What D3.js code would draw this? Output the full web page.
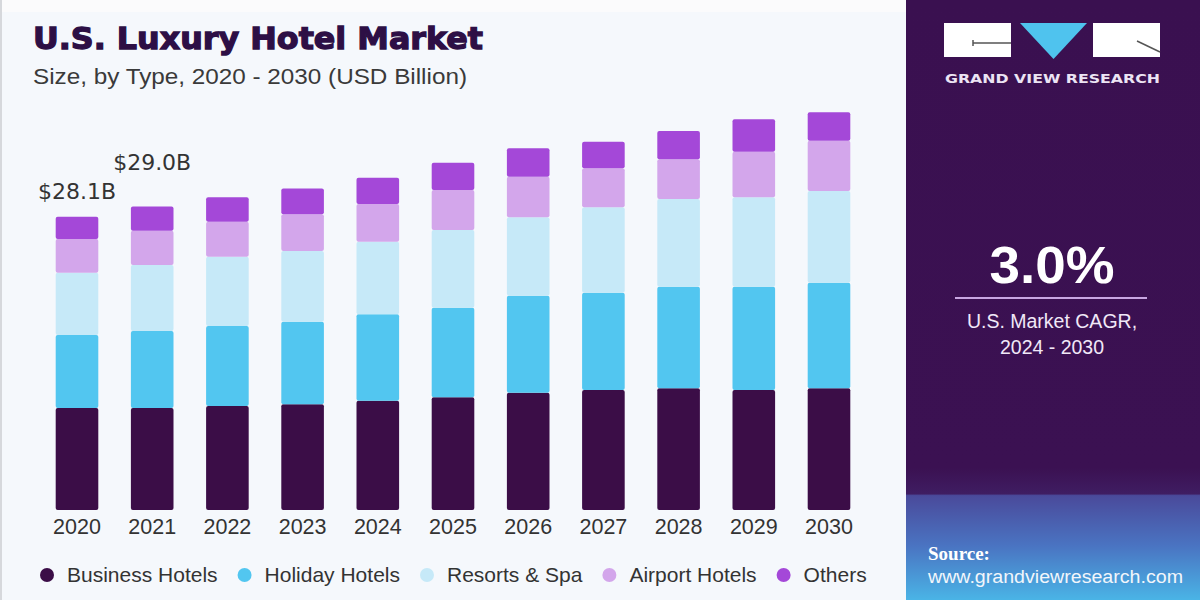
<!DOCTYPE html>
<html>
<head>
<meta charset="utf-8">
<script src="https://cdn.jsdelivr.net/npm/d3@7"></script>
<style>
  html, body { margin: 0; padding: 0; background: #f5f8fc; }
  svg { display: block; }
</style>
</head>
<body>
<svg id="chart" width="1200" height="600"></svg>
<script>
// ---- data ----
const years = ["2020","2021","2022","2023","2024","2025","2026","2027","2028","2029","2030"];
const seriesNames = ["Business Hotels","Holiday Hotels","Resorts & Spa","Airport Hotels","Others"];
const businessHotels = [9.77, 9.77, 9.96, 10.12, 10.47, 10.79, 11.24, 11.49, 11.66, 11.49, 11.66];
const holidayHotels  = [6.99, 7.38, 7.66, 7.91, 8.28, 8.58, 9.29, 9.32, 9.73, 9.90, 10.11];
const resortsSpa     = [5.97, 6.32, 6.64, 6.77, 6.95, 7.44, 7.51, 8.18, 8.40, 8.56, 8.78];
const airportHotels  = [3.23, 3.29, 3.35, 3.54, 3.61, 3.83, 3.89, 3.74, 3.80, 4.37, 4.82];
const others         = [2.14, 2.30, 2.34, 2.46, 2.52, 2.61, 2.72, 2.55, 2.71, 3.10, 2.72];
const valueLabels = [{year: "2020", text: "$28.1B"}, {year: "2021", text: "$29.0B"}];
const cagrValue = "3.0%";
const cagrLines = ["U.S. Market CAGR,", "2024 - 2030"];

// ---- styles ----
const colors = ["#3b0d47", "#52c6f0", "#c6e9f8", "#d3a6eb", "#a448d8"];
const labelLift = {"2020": 18, "2021": 37};

const svg = d3.select("#chart");
const W = 1200, H = 600;

// backgrounds
svg.append("rect").attr("x",0).attr("y",0).attr("width",906).attr("height",H).attr("fill","#f5f8fc");
svg.append("rect").attr("x",0).attr("y",0).attr("width",906).attr("height",12).attr("fill","#fbfbfc");
svg.append("rect").attr("x",0).attr("y",0).attr("width",2).attr("height",H).attr("fill","#d6d8dc");

// right panel with gradient
const defs = svg.append("defs");
const grad = defs.append("linearGradient").attr("id","panelGrad")
  .attr("x1",0).attr("y1",0).attr("x2",0).attr("y2",1);
grad.append("stop").attr("offset","0%").attr("stop-color","#3a1050");
grad.append("stop").attr("offset","78%").attr("stop-color","#3b1152");
grad.append("stop").attr("offset","82.3%").attr("stop-color","#3f1d62");
grad.append("stop").attr("offset","82.6%").attr("stop-color","#4a4a9b");
grad.append("stop").attr("offset","91%").attr("stop-color","#4a74c2");
grad.append("stop").attr("offset","100%").attr("stop-color","#4ab4e6");
svg.append("rect").attr("x",906).attr("y",0).attr("width",W-906).attr("height",H).attr("fill","url(#panelGrad)");

// ---- titles ----
svg.append("text").attr("x",33).attr("y",49)
  .attr("font-family","'DejaVu Sans', sans-serif").attr("font-weight","bold")
  .attr("font-size",31).attr("fill","#2d0f45")
  .attr("stroke","#2d0f45").attr("stroke-width",1.3)
  .attr("textLength",450).attr("lengthAdjust","spacingAndGlyphs")
  .text("U.S. Luxury Hotel Market");
svg.append("text").attr("x",33).attr("y",84)
  .attr("font-family","'Liberation Sans', Arial, sans-serif")
  .attr("font-size",22).attr("fill","#3a3a3a")
  .attr("textLength",434).attr("lengthAdjust","spacingAndGlyphs")
  .text("Size, by Type, 2020 - 2030 (USD Billion)");

// ---- scales ----
const x = d3.scaleBand().domain(years).range([39.4, 866.6]).paddingInner(0.4335).paddingOuter(0.4335/2);
const y = d3.scaleLinear().domain([0, 40]).range([510, 510 - 417.6]);

const table = years.map((yr, i) => ({
  year: yr,
  "Business Hotels": businessHotels[i],
  "Holiday Hotels": holidayHotels[i],
  "Resorts & Spa": resortsSpa[i],
  "Airport Hotels": airportHotels[i],
  "Others": others[i]
}));
const stacked = d3.stack().keys(seriesNames)(table);
const color = d3.scaleOrdinal().domain(seriesNames).range(colors);

const g = svg.append("g");
stacked.forEach(layer => {
  g.append("g").attr("fill", color(layer.key))
    .selectAll("rect").data(layer).join("rect")
    .attr("x", d => x(d.data.year))
    .attr("width", x.bandwidth())
    .attr("y", d => y(d[1]))
    .attr("height", d => y(d[0]) - y(d[1]))
    .attr("rx", 2);
});

// x axis labels
const xAxis = d3.axisBottom(x).tickSize(0).tickPadding(9);
const ax = svg.append("g").attr("transform", "translate(0,510)").call(xAxis);
ax.select(".domain").remove();
ax.selectAll("text").attr("font-family","'Liberation Sans', Arial, sans-serif")
  .attr("font-size",21.5).attr("fill","#333");

// value labels
const totals = years.map((yr, i) => businessHotels[i]+holidayHotels[i]+resortsSpa[i]+airportHotels[i]+others[i]);
valueLabels.forEach(v => {
  const i = years.indexOf(v.year);
  svg.append("text")
    .attr("x", x(v.year) + x.bandwidth()/2)
    .attr("y", y(totals[i]) - labelLift[v.year])
    .attr("text-anchor","middle")
    .attr("font-family","'DejaVu Sans', sans-serif")
    .attr("font-size",21).attr("fill","#333")
    .attr("textLength",78).attr("lengthAdjust","spacingAndGlyphs")
    .text(v.text);
});

// ---- legend ----
const leg = svg.append("g");
let lx = 47;
seriesNames.forEach((name, i) => {
  leg.append("circle").attr("cx", lx).attr("cy", 575).attr("r", 7).attr("fill", colors[i]);
  const t = leg.append("text").attr("x", lx + 20).attr("y", 582)
    .attr("font-family","'Liberation Sans', Arial, sans-serif")
    .attr("font-size",21).attr("fill","#333").text(name);
  const w = t.node().getComputedTextLength();
  lx = lx + 20 + w + 27;
});

// ---- logo ----
const logo = svg.append("g");
logo.append("rect").attr("x",944).attr("y",23).attr("width",67).attr("height",34).attr("fill","#ffffff");
logo.append("path").attr("d","M1020,23 L1087,23 L1053.5,59 Z").attr("fill","#4fc3ee");
logo.append("rect").attr("x",1093).attr("y",23).attr("width",67).attr("height",34).attr("fill","#ffffff");
logo.append("path").attr("d","M973,43 L1011,43 M973,40 L973,46").attr("stroke","#555").attr("stroke-width",1.5).attr("fill","none");
logo.append("path").attr("d","M1137,41 L1160,52").attr("stroke","#555").attr("stroke-width",1.5).attr("fill","none");
svg.append("text").attr("x",945).attr("y",83)
  .attr("font-family","'DejaVu Sans', sans-serif").attr("font-weight","bold")
  .attr("font-size",13).attr("fill","#ece4f4")
  .attr("textLength",215).attr("lengthAdjust","spacingAndGlyphs")
  .text("GRAND VIEW RESEARCH");

// ---- CAGR ----
svg.append("text").attr("x",1052).attr("y",283).attr("text-anchor","middle")
  .attr("font-family","'Liberation Sans', Arial, sans-serif").attr("font-weight","bold")
  .attr("font-size",52).attr("fill","#ffffff")
  .attr("textLength",125).attr("lengthAdjust","spacingAndGlyphs")
  .text(cagrValue);
svg.append("line").attr("x1",955).attr("x2",1147).attr("y1",298).attr("y2",298)
  .attr("stroke","#c8a6e2").attr("stroke-width",2);
cagrLines.forEach((ln, i) => {
  svg.append("text").attr("x",1052).attr("y",328 + i*26).attr("text-anchor","middle")
    .attr("font-family","'Liberation Sans', Arial, sans-serif")
    .attr("font-size",19.5).attr("fill","#f1e8f8").text(ln);
});

// ---- source ----
svg.append("text").attr("x",928).attr("y",560)
  .attr("font-family","'Liberation Serif', serif").attr("font-weight","bold")
  .attr("font-size",19).attr("fill","#ffffff").text("Source:");
svg.append("text").attr("x",928).attr("y",583)
  .attr("font-family","'Liberation Sans', Arial, sans-serif")
  .attr("font-size",18).attr("fill","#f2f6fb")
  .attr("textLength",255).attr("lengthAdjust","spacingAndGlyphs")
  .text("www.grandviewresearch.com");
</script>
</body>
</html>
